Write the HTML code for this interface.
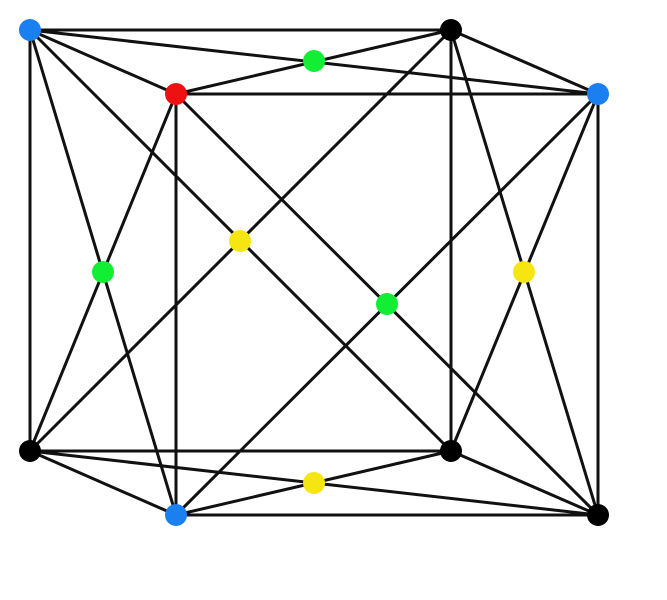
<!DOCTYPE html>
<html><head><style>body{margin:0;background:#fff}svg{display:block}</style></head><body>
<svg width="667" height="600" viewBox="0 0 667 600" xmlns="http://www.w3.org/2000/svg">
<g stroke="#111" stroke-width="3" stroke-linecap="round">
<line x1="30" y1="30" x2="451" y2="30"/>
<line x1="30" y1="30" x2="176" y2="94"/>
<line x1="451" y1="30" x2="598" y2="94"/>
<line x1="176" y1="94" x2="598" y2="94"/>
<line x1="30" y1="30" x2="30" y2="451"/>
<line x1="451" y1="30" x2="451" y2="451"/>
<line x1="176" y1="94" x2="176" y2="515"/>
<line x1="598" y1="94" x2="598" y2="515"/>
<line x1="30" y1="451" x2="451" y2="451"/>
<line x1="30" y1="451" x2="176" y2="515"/>
<line x1="451" y1="451" x2="598" y2="515"/>
<line x1="176" y1="515" x2="598" y2="515"/>
<line x1="30" y1="30" x2="598" y2="94"/>
<line x1="451" y1="30" x2="176" y2="94"/>
<line x1="30" y1="30" x2="176" y2="515"/>
<line x1="176" y1="94" x2="30" y2="451"/>
<line x1="30" y1="30" x2="451" y2="451"/>
<line x1="451" y1="30" x2="30" y2="451"/>
<line x1="176" y1="94" x2="598" y2="515"/>
<line x1="598" y1="94" x2="176" y2="515"/>
<line x1="451" y1="30" x2="598" y2="515"/>
<line x1="598" y1="94" x2="451" y2="451"/>
<line x1="30" y1="451" x2="598" y2="515"/>
<line x1="451" y1="451" x2="176" y2="515"/>
</g>
<g>
<circle cx="30" cy="30" r="11" fill="#1a7fef"/>
<circle cx="451" cy="30" r="11" fill="#000"/>
<circle cx="176" cy="94" r="11" fill="#ee1111"/>
<circle cx="598" cy="94" r="11" fill="#1a7fef"/>
<circle cx="30" cy="451" r="11" fill="#000"/>
<circle cx="451" cy="451" r="11" fill="#000"/>
<circle cx="176" cy="515" r="11" fill="#1a7fef"/>
<circle cx="598" cy="515" r="11" fill="#000"/>
<circle cx="314" cy="61" r="11" fill="#11ee33"/>
<circle cx="103" cy="272" r="11" fill="#11ee33"/>
<circle cx="240" cy="241" r="11" fill="#f5e611"/>
<circle cx="387" cy="304" r="11" fill="#11ee33"/>
<circle cx="524" cy="272" r="11" fill="#f5e611"/>
<circle cx="314" cy="483" r="11" fill="#f5e611"/>
</g>
</svg>
</body></html>
